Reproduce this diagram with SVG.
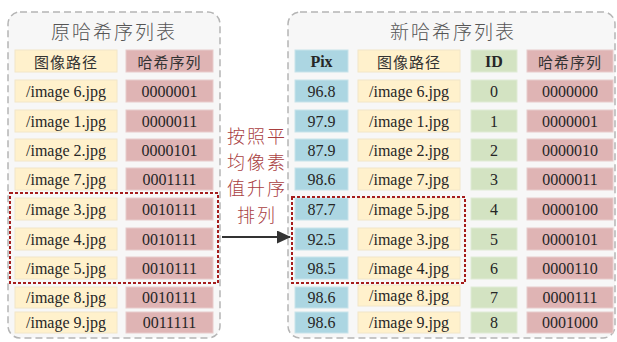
<svg xmlns="http://www.w3.org/2000/svg" width="617" height="342" viewBox="0 0 617 342">
<defs>
<style>
.box{fill:#f7f7f7;stroke:#b5b5b5;stroke-width:1.5;stroke-dasharray:7 4}
.y{fill:#fff1cc;stroke:#f2e6c8;stroke-width:1}
.p{fill:#dfb4b4;stroke:#e8cccc;stroke-width:1}
.b{fill:#acd6e2;stroke:#c8e3ea;stroke-width:1}
.g{fill:#d3e3c2;stroke:#e0ebd6;stroke-width:1}
.t{font-size:16px;fill:#262626;text-anchor:middle;dominant-baseline:central}
.tb{font-weight:bold}
.zh{font-size:15px;fill:#333;text-anchor:middle;dominant-baseline:central;letter-spacing:1px}
.title{font-size:19px;fill:#555;text-anchor:middle;dominant-baseline:central;letter-spacing:2px;font-weight:300}
.lbl{font-size:18px;fill:#a9403f;text-anchor:middle;dominant-baseline:central;letter-spacing:2px;font-weight:300}
.sel{fill:none;stroke:#a51c1c;stroke-width:2;stroke-dasharray:3 2}
</style>
<marker id="ah" markerWidth="14" markerHeight="14" refX="13" refY="6.5" orient="auto" markerUnits="userSpaceOnUse">
<path d="M0,0 L14,6.5 L0,13 Z" fill="#333"/>
</marker>
</defs>
<rect width="617" height="342" fill="#ffffff"/>

<g id="old-table">
<rect class="box" x="8" y="12" width="212" height="326" rx="12"/>
<text class="title" font-family="Noto Sans CJK SC, sans-serif" x="114" y="30">原哈希序列表</text>
<g font-family="Noto Sans CJK SC, sans-serif">
<rect class="y" x="15" y="50" width="102" height="22"/><text class="zh" x="66" y="61">图像路径</text>
<rect class="p" x="126" y="50" width="87" height="22"/><text class="zh" x="169.5" y="61">哈希序列</text>
</g>
<g font-family="Liberation Serif, Times New Roman, serif">
<rect class="y" x="15" y="80" width="102" height="22"/><text class="t" x="66" y="91">/image 6.jpg</text>
<rect class="p" x="126" y="80" width="87" height="22"/><text class="t" x="169.5" y="91">0000001</text>
<rect class="y" x="15" y="110" width="102" height="22"/><text class="t" x="66" y="121">/image 1.jpg</text>
<rect class="p" x="126" y="110" width="87" height="22"/><text class="t" x="169.5" y="121">0000011</text>
<rect class="y" x="15" y="139" width="102" height="22"/><text class="t" x="66" y="150">/image 2.jpg</text>
<rect class="p" x="126" y="139" width="87" height="22"/><text class="t" x="169.5" y="150">0000101</text>
<rect class="y" x="15" y="168" width="102" height="22"/><text class="t" x="66" y="179">/image 7.jpg</text>
<rect class="p" x="126" y="168" width="87" height="22"/><text class="t" x="169.5" y="179">0001111</text>
<rect class="y" x="15" y="198" width="102" height="22"/><text class="t" x="66" y="209">/image 3.jpg</text>
<rect class="p" x="126" y="198" width="87" height="22"/><text class="t" x="169.5" y="209">0010111</text>
<rect class="y" x="15" y="228" width="102" height="22"/><text class="t" x="66" y="239">/image 4.jpg</text>
<rect class="p" x="126" y="228" width="87" height="22"/><text class="t" x="169.5" y="239">0010111</text>
<rect class="y" x="15" y="257" width="102" height="22"/><text class="t" x="66" y="268">/image 5.jpg</text>
<rect class="p" x="126" y="257" width="87" height="22"/><text class="t" x="169.5" y="268">0010111</text>
<rect class="y" x="15" y="287" width="102" height="21"/><text class="t" x="66" y="297.5">/image 8.jpg</text>
<rect class="p" x="126" y="287" width="87" height="21"/><text class="t" x="169.5" y="297.5">0010111</text>
<rect class="y" x="15" y="312" width="102" height="21"/><text class="t" x="66" y="322.5">/image 9.jpg</text>
<rect class="p" x="126" y="312" width="87" height="21"/><text class="t" x="169.5" y="322.5">0011111</text>
</g>
<rect class="sel" x="10" y="193" width="208" height="90"/>
</g>

<g id="new-table">
<rect class="box" x="288" y="12" width="327" height="326" rx="12"/>
<text class="title" font-family="Noto Sans CJK SC, sans-serif" x="453" y="30">新哈希序列表</text>
<g font-family="Noto Sans CJK SC, sans-serif">
<rect class="y" x="358" y="50" width="102" height="22"/><text class="zh" x="409" y="61">图像路径</text>
<rect class="p" x="527" y="50" width="86" height="22"/><text class="zh" x="570" y="61">哈希序列</text>
</g>
<g font-family="Liberation Serif, Times New Roman, serif">
<rect class="b" x="295" y="50" width="53" height="22"/><text class="t tb" x="321.5" y="61">Pix</text>
<rect class="g" x="471" y="50" width="46" height="22"/><text class="t tb" x="494" y="61">ID</text>

<rect class="b" x="295" y="80" width="53" height="22"/><text class="t" x="321.5" y="91">96.8</text>
<rect class="y" x="358" y="80" width="102" height="22"/><text class="t" x="409" y="91">/image 6.jpg</text>
<rect class="g" x="471" y="80" width="46" height="22"/><text class="t" x="494" y="91">0</text>
<rect class="p" x="527" y="80" width="86" height="22"/><text class="t" x="570" y="91">0000000</text>

<rect class="b" x="295" y="110" width="53" height="22"/><text class="t" x="321.5" y="121">97.9</text>
<rect class="y" x="358" y="110" width="102" height="22"/><text class="t" x="409" y="121">/image 1.jpg</text>
<rect class="g" x="471" y="110" width="46" height="22"/><text class="t" x="494" y="121">1</text>
<rect class="p" x="527" y="110" width="86" height="22"/><text class="t" x="570" y="121">0000001</text>

<rect class="b" x="295" y="139" width="53" height="22"/><text class="t" x="321.5" y="150">87.9</text>
<rect class="y" x="358" y="139" width="102" height="22"/><text class="t" x="409" y="150">/image 2.jpg</text>
<rect class="g" x="471" y="139" width="46" height="22"/><text class="t" x="494" y="150">2</text>
<rect class="p" x="527" y="139" width="86" height="22"/><text class="t" x="570" y="150">0000010</text>

<rect class="b" x="295" y="168" width="53" height="22"/><text class="t" x="321.5" y="179">98.6</text>
<rect class="y" x="358" y="168" width="102" height="22"/><text class="t" x="409" y="179">/image 7.jpg</text>
<rect class="g" x="471" y="168" width="46" height="22"/><text class="t" x="494" y="179">3</text>
<rect class="p" x="527" y="168" width="86" height="22"/><text class="t" x="570" y="179">0000011</text>

<rect class="b" x="295" y="198" width="53" height="22"/><text class="t" x="321.5" y="209">87.7</text>
<rect class="y" x="358" y="198" width="102" height="22"/><text class="t" x="409" y="209">/image 5.jpg</text>
<rect class="g" x="471" y="198" width="46" height="22"/><text class="t" x="494" y="209">4</text>
<rect class="p" x="527" y="198" width="86" height="22"/><text class="t" x="570" y="209">0000100</text>

<rect class="b" x="295" y="228" width="53" height="22"/><text class="t" x="321.5" y="239">92.5</text>
<rect class="y" x="358" y="228" width="102" height="22"/><text class="t" x="409" y="239">/image 3.jpg</text>
<rect class="g" x="471" y="228" width="46" height="22"/><text class="t" x="494" y="239">5</text>
<rect class="p" x="527" y="228" width="86" height="22"/><text class="t" x="570" y="239">0000101</text>

<rect class="b" x="295" y="257" width="53" height="22"/><text class="t" x="321.5" y="268">98.5</text>
<rect class="y" x="358" y="257" width="102" height="22"/><text class="t" x="409" y="268">/image 4.jpg</text>
<rect class="g" x="471" y="257" width="46" height="22"/><text class="t" x="494" y="268">6</text>
<rect class="p" x="527" y="257" width="86" height="22"/><text class="t" x="570" y="268">0000110</text>

<rect class="b" x="295" y="287" width="53" height="21"/><text class="t" x="321.5" y="297.5">98.6</text>
<rect class="y" x="358" y="285" width="102" height="21"/><text class="t" x="409" y="295.5">/image 8.jpg</text>
<rect class="g" x="471" y="287" width="46" height="21"/><text class="t" x="494" y="297.5">7</text>
<rect class="p" x="527" y="287" width="86" height="21"/><text class="t" x="570" y="297.5">0000111</text>

<rect class="b" x="295" y="312" width="53" height="21"/><text class="t" x="321.5" y="322.5">98.6</text>
<rect class="y" x="358" y="312" width="102" height="21"/><text class="t" x="409" y="322.5">/image 9.jpg</text>
<rect class="g" x="471" y="312" width="46" height="21"/><text class="t" x="494" y="322.5">8</text>
<rect class="p" x="527" y="312" width="86" height="21"/><text class="t" x="570" y="322.5">0001000</text>
</g>
<rect class="sel" x="292" y="197" width="173" height="86"/>
</g>

<g id="connectors">
<line x1="222" y1="237" x2="290" y2="237" stroke="#333" stroke-width="2" marker-end="url(#ah)"/>
<g id="sort-label" font-family="Noto Sans CJK SC, sans-serif">
<text class="lbl" x="257" y="135">按照平</text>
<text class="lbl" x="257" y="161">均像素</text>
<text class="lbl" x="257" y="187">值升序</text>
<text class="lbl" x="257" y="214">排列</text>
</g>
</g>
</svg>
